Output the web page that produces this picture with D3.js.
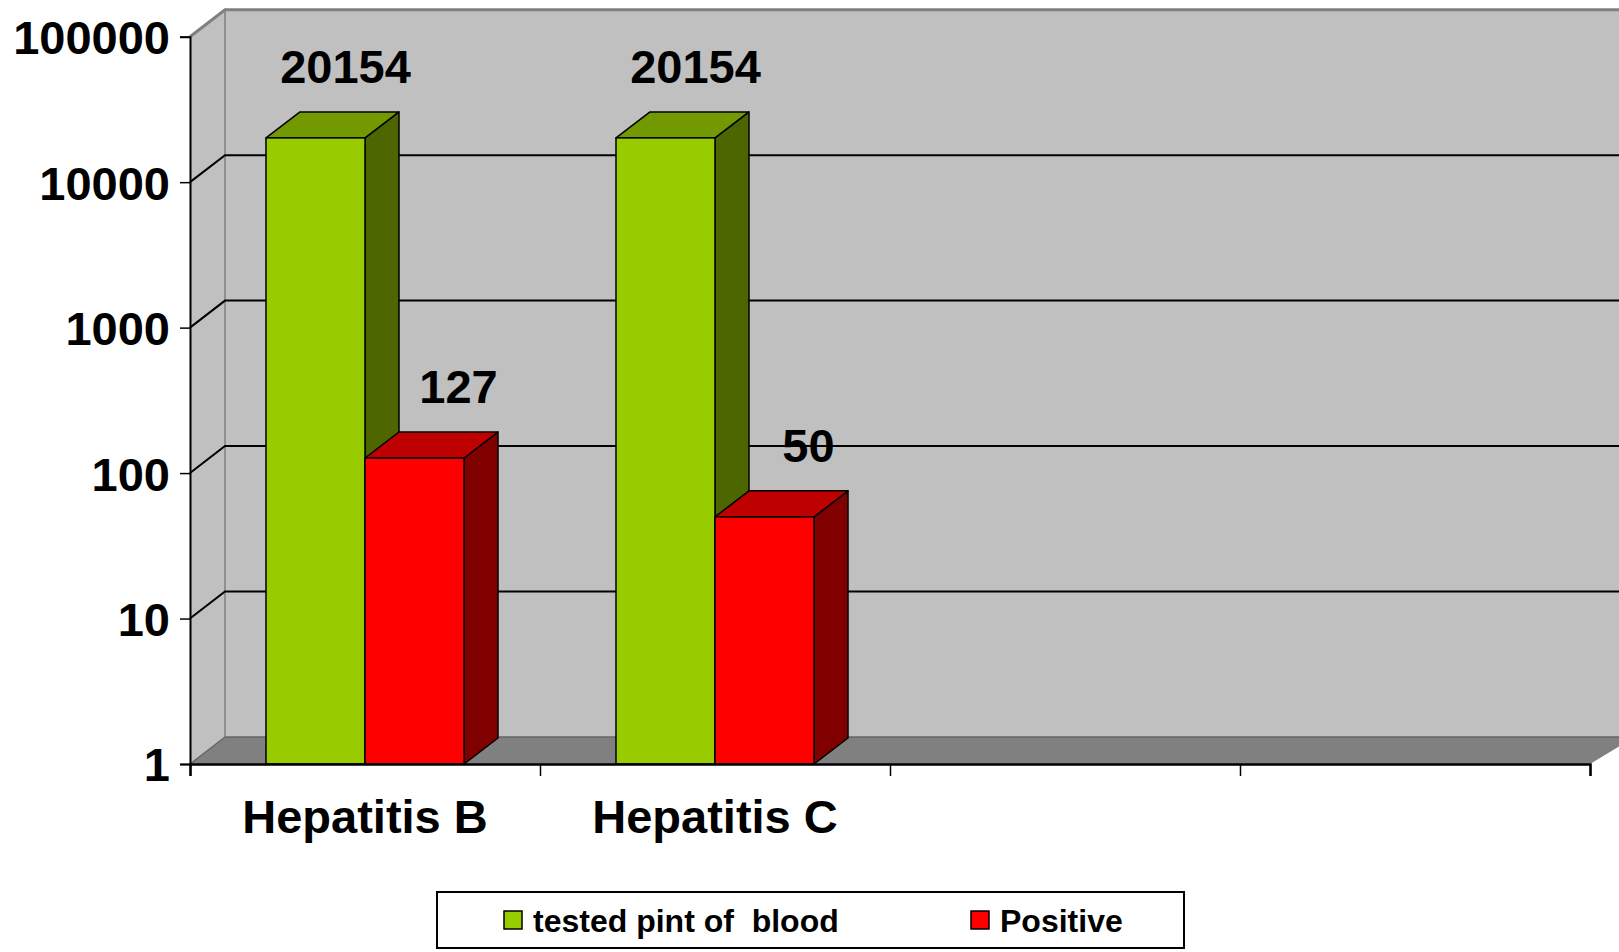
<!DOCTYPE html>
<html><head><meta charset="utf-8">
<script src="https://cdn.jsdelivr.net/npm/d3@7"></script>
<style>
html,body{margin:0;padding:0;background:#fff;}
text{font-family:"Liberation Sans",Arial,sans-serif;font-weight:bold;}
</style>
</head><body>
<svg id="chart" width="1619" height="952"></svg>
<script>
// ---- data ----
const categories = ["Hepatitis B", "Hepatitis C", "", ""];
const seriesNames = ["tested pint of  blood", "Positive"];
const testedValues = [20154, 20154, null, null];
const positiveValues = [127, 50, null, null];
const yTicks = [1, 10, 100, 1000, 10000, 100000];

const seriesColors = [
  {front:"#99cc00", top:"#739900", side:"#4d6600"},
  {front:"#ff0000", top:"#bf0000", side:"#800000"}
];

const svg = d3.select("#chart");
const x0 = 190, x1 = 1590, yBot = 764, yTop = 36.7;
const wdx = 35, wdy = -27;   // wall depth offset
const bdx = 34, bdy = -26;   // bar depth offset

const x = d3.scaleBand().domain(d3.range(categories.length)).range([x0, x1]).padding(0);
const xs = d3.scaleBand().domain(d3.range(seriesNames.length)).range([76, 350 - 76]).padding(0);
const y = d3.scaleLog().domain([1, 100000]).range([yBot, yTop]);

// walls
const g = svg.append("g");
// back wall
g.append("rect").attr("x", x0 + wdx).attr("y", yTop + wdy).attr("width", 1700).attr("height", yBot - yTop)
  .attr("fill", "#c0c0c0");
// left wall
g.append("path").attr("d", `M${x0},${yTop}L${x0+wdx},${yTop+wdy}L${x0+wdx},${yBot+wdy}L${x0},${yBot}Z`)
  .attr("fill", "#c0c0c0");
// floor
g.append("path").attr("d", `M${x0},${yBot}L${x0+wdx},${yBot+wdy}L${x1+wdx+10},${yBot+wdy}L${x1},${yBot}Z`)
  .attr("fill", "#808080");
g.append("line").attr("x1", x0+wdx).attr("x2", 1619).attr("y1", yBot+wdy).attr("y2", yBot+wdy)
  .attr("stroke", "#666").attr("stroke-width", 1.5);
g.append("line").attr("x1", x0+wdx).attr("x2", x0+wdx).attr("y1", yTop+wdy).attr("y2", yBot+wdy)
  .attr("stroke", "#808080").attr("stroke-width", 1.5);
// top edges
g.append("path").attr("d", `M${x0},${yTop}L${x0+wdx},${yTop+wdy}L1619,${yTop+wdy}`)
  .attr("fill", "none").attr("stroke", "#808080").attr("stroke-width", 3);
g.append("line").attr("x1", x0).attr("y1", yBot).attr("x2", x0+wdx).attr("y2", yBot+wdy)
  .attr("stroke", "#666").attr("stroke-width", 1.5);

// gridlines
yTicks.filter(v => v > 1 && v < 100000).forEach(v => {
  const yy = y(v);
  g.append("path").attr("d", `M${x0},${yy}L${x0+wdx},${yy+wdy}L1619,${yy+wdy}`)
    .attr("fill", "none").attr("stroke", "#000").attr("stroke-width", 2);
});

// axes
const yAxis = d3.axisLeft(y).tickValues(yTicks).tickFormat(d3.format("d")).tickSize(10).tickPadding(10);
const ya = svg.append("g").attr("transform", `translate(${x0},0)`).call(yAxis);
ya.select(".domain").attr("stroke", "#000").attr("stroke-width", 2);
ya.selectAll(".tick line").attr("stroke", "#000").attr("stroke-width", 1.5);
ya.selectAll(".tick text").attr("font-size", 47).attr("fill", "#000")
  .attr("font-family", "Liberation Sans, Arial, sans-serif").attr("font-weight", "bold").attr("dy", "0.36em");

// bars
const series = [testedValues, positiveValues];
const barsG = svg.append("g");
categories.forEach((c, ci) => {
  series.forEach((vals, si) => {
    const v = vals[ci];
    if (v == null) return;
    const bx = x(ci) + xs(si), bw = xs.bandwidth();
    const ty = y(v), by = y(1);
    const col = seriesColors[si];
    // side
    barsG.append("path").attr("d", `M${bx+bw},${by}L${bx+bw+bdx},${by+bdy}L${bx+bw+bdx},${ty+bdy}L${bx+bw},${ty}Z`)
      .attr("fill", col.side).attr("stroke", "#000").attr("stroke-width", 1.5).attr("stroke-linejoin", "round");
    // top
    barsG.append("path").attr("d", `M${bx},${ty}L${bx+bdx},${ty+bdy}L${bx+bw+bdx},${ty+bdy}L${bx+bw},${ty}Z`)
      .attr("fill", col.top).attr("stroke", "#000").attr("stroke-width", 1.5).attr("stroke-linejoin", "round");
    // front
    barsG.append("rect").attr("x", bx).attr("y", ty).attr("width", bw).attr("height", by - ty)
      .attr("fill", col.front).attr("stroke", "#000").attr("stroke-width", 1.5);
    // label
    barsG.append("text").attr("x", bx + bw/2 + bdx + (si === 1 ? 10 : -4)).attr("y", ty - 55)
      .attr("text-anchor", "middle").attr("font-size", 47).attr("fill", "#000").text(v);
  });
});

// x axis
const xAxis = d3.axisBottom(d3.scaleLinear().domain([0, categories.length]).range([x0, x1]))
  .tickValues(d3.range(categories.length + 1)).tickFormat("").tickSize(12);
const xa = svg.append("g").attr("transform", `translate(0,${yBot})`).call(xAxis);
xa.select(".domain").attr("stroke", "#000").attr("stroke-width", 2.5);
xa.selectAll(".tick line").attr("stroke", "#000").attr("stroke-width", 1.5);
svg.append("g").selectAll("text").data(categories).join("text")
  .attr("x", (d, i) => x(i) + x.bandwidth()/2).attr("y", 833)
  .attr("text-anchor", "middle").attr("font-size", 47).attr("fill", "#000").text(d => d);

// legend
const lg = svg.append("g");
lg.append("rect").attr("x", 437).attr("y", 892).attr("width", 747).attr("height", 56)
  .attr("fill", "#fff").attr("stroke", "#000").attr("stroke-width", 2);
const legendX = [504, 971];
seriesNames.forEach((n, i) => {
  lg.append("rect").attr("x", legendX[i]).attr("y", 911).attr("width", 18).attr("height", 18)
    .attr("fill", seriesColors[i].front).attr("stroke", "#000").attr("stroke-width", 1.5);
  lg.append("text").attr("x", legendX[i] + 29).attr("y", 932).attr("font-size", 32)
    .style("white-space", "pre").attr("fill", "#000").text(n);
});
</script>
</body></html>
